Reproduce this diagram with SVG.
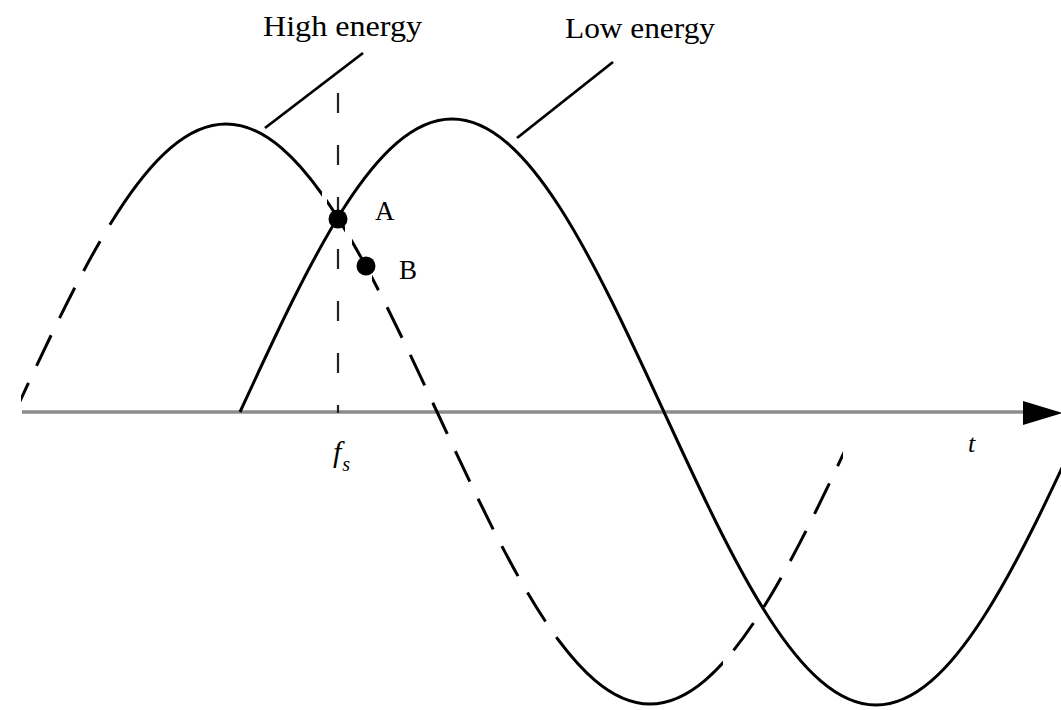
<svg xmlns="http://www.w3.org/2000/svg" width="1061" height="710" viewBox="0 0 1061 710">
  <style>
    .curve { fill: none; stroke: #000; stroke-width: 3; }
    .dash { stroke-dasharray: 34 19; }
    .lead { fill: none; stroke: #000; stroke-width: 2.8; }
    .lbl { font-family: "Liberation Serif", "Times New Roman", serif; fill: #000; }
    .ital { font-style: italic; }
  </style>
  <defs>
    <path id="high" d="M14,414 C84.9,261.7 149.7,124 226,124 C302.3,124 367.1,261.7 438,414 C508.9,566.3 573.7,704 650,704 C726.3,704 791.1,566.3 862,414"/>
    <path id="low" d="M240,412 C310.9,258.1 375.7,119 452,119 C528.3,119 593.1,258.1 664,412 C734.9,565.9 799.7,705 876,705 C952.3,705 1017.1,565.9 1088,412"/>
    <clipPath id="hd1"><rect x="21" y="0" width="92" height="710"/></clipPath>
    <clipPath id="hs1"><rect x="113" y="0" width="209" height="710"/></clipPath>
    <clipPath id="hs2"><rect x="327" y="0" width="18" height="710"/></clipPath>
    <clipPath id="hs3"><rect x="352" y="0" width="14" height="710"/></clipPath>
    <clipPath id="hd2"><rect x="372" y="0" width="188" height="710"/></clipPath>
    <clipPath id="hs4"><rect x="560" y="0" width="163" height="710"/></clipPath>
    <clipPath id="hd3"><rect x="727" y="0" width="116" height="710"/></clipPath>
  </defs>

  <g id="axis">
    <line x1="22" y1="412" x2="1030" y2="412" stroke="#8c8c8c" stroke-width="3.5"/>
    <polygon points="1023,401 1063,413 1023,425" fill="#000"/>
    <text class="lbl ital" x="968" y="452" font-size="26">t</text>
  </g>

  <g id="fs-marker">
    <line x1="338" y1="93" x2="338" y2="413" stroke="#222" stroke-width="2.2" stroke-dasharray="20 32"/>
    <text class="lbl ital" x="333" y="462" font-size="30">f<tspan font-size="20" dx="1" dy="9">s</tspan></text>
  </g>

  <g id="high-energy-curve">
    <use href="#high" class="curve dash" clip-path="url(#hd1)"/>
    <use href="#high" class="curve" clip-path="url(#hs1)"/>
    <use href="#high" class="curve" clip-path="url(#hs2)"/>
    <use href="#high" class="curve" clip-path="url(#hs3)"/>
    <use href="#high" class="curve dash" stroke-dashoffset="10" clip-path="url(#hd2)"/>
    <use href="#high" class="curve" clip-path="url(#hs4)"/>
    <use href="#high" class="curve dash" clip-path="url(#hd3)"/>
  </g>

  <g id="low-energy-curve">
    <use href="#low" class="curve"/>
  </g>

  <g id="point-A">
    <circle cx="338" cy="219" r="9.5" fill="#000"/>
    <text class="lbl" x="375" y="220" font-size="27">A</text>
  </g>
  <g id="point-B">
    <circle cx="366" cy="266" r="9.5" fill="#000"/>
    <text class="lbl" x="399" y="279" font-size="27">B</text>
  </g>

  <g id="label-high">
    <text class="lbl" x="263" y="36" font-size="30" textLength="159" lengthAdjust="spacingAndGlyphs">High energy</text>
  </g>
  <g id="label-low">
    <text class="lbl" x="565" y="38" font-size="30" textLength="150" lengthAdjust="spacingAndGlyphs">Low energy</text>
  </g>

  <g id="connectors">
    <line class="lead" x1="265" y1="128" x2="363" y2="53"/>
    <line class="lead" x1="517" y1="138" x2="613" y2="62" stroke-width="2"/>
  </g>
</svg>
